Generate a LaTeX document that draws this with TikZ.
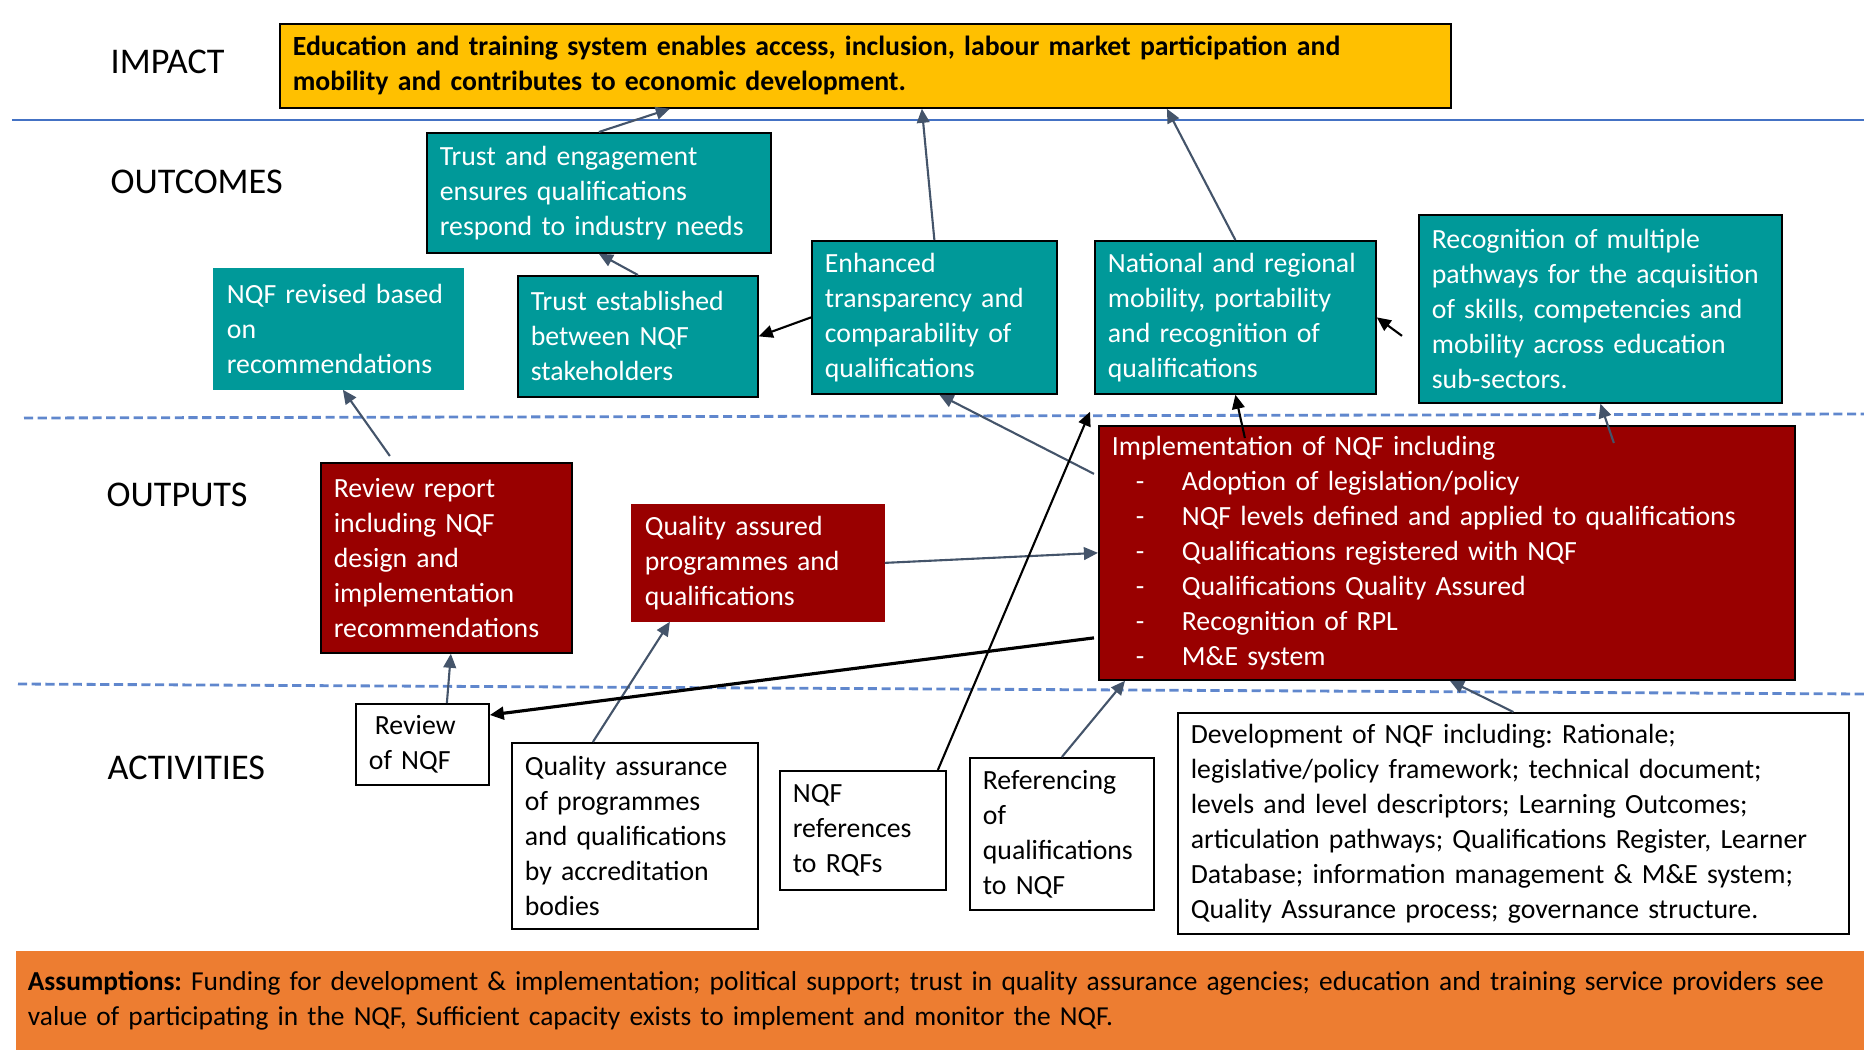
\documentclass[tikz,border=0pt]{standalone}
\usepackage{fontspec}
\setmainfont{Carlito}
\usetikzlibrary{arrows.meta}
\definecolor{gold}{HTML}{FFC000}
\definecolor{tealbox}{HTML}{009999}
\definecolor{redbox}{HTML}{990000}
\definecolor{orangebar}{HTML}{ED7D31}
\definecolor{slate}{HTML}{44546A}
\definecolor{rulecol}{HTML}{4472C4}
\newcommand{\dashitem}{\makebox[0.70cm][l]{\hspace{0.24cm}-}}
\tikzset{
  box/.style={anchor=north west, align=left, inner xsep=0.13cm, inner ysep=0pt,
    draw=black, line width=0.5pt, font=\fontsize{7.9pt}{9.96pt}\selectfont\frenchspacing},
  outcome/.style={box, fill=tealbox, text=white},
  output/.style={box, fill=redbox, text=white},
  activity/.style={box, fill=white},
  level/.style={anchor=west, inner sep=0pt, font=\fontsize{10.3pt}{12pt}\selectfont},
  tip/.style={-{Triangle[length=4pt,width=3.6pt]}, line width=0.6pt},
}
\begin{document}
\begin{tikzpicture}[x=1cm, y=-1cm]
      \useasboundingbox (0,0) rectangle (18.64,10.51);
      \draw[rulecol, line width=0.6pt] (0.12,1.20) -- (18.64,1.20);
      \draw[rulecol!85, line width=0.8pt, dash pattern=on 2.6pt off 1.3pt]
        (0.24,4.18) -- (18.64,4.14)
        (0.18,6.84) -- (18.64,6.94);
      \path
        (1.10,0.62) node[level] (l1){IMPACT}
        (1.10,1.82) node[level] (l2){OUTCOMES}
        (1.06,4.95) node[level] (l3){OUTPUTS}
        (1.07,7.68) node[level] (l4){ACTIVITIES};
      \path
        (2.79,0.23) node[box, fill=gold, font=\fontsize{7.9pt}{9.96pt}\selectfont\frenchspacing\bfseries,
          text width=11.45cm, minimum height=0.84cm] (impact)
          {Education and training system enables access, inclusion, labour market participation and\\
           mobility and contributes to economic development.}
        (4.26,1.32) node[outcome, text width=3.18cm, minimum height=1.20cm] (te)
          {Trust and engagement\\ ensures qualifications\\ respond to industry needs}
        (2.13,2.68) node[outcome, draw=tealbox, text width=2.23cm, minimum height=1.20cm] (rev)
          {NQF revised based\\ on\\ recommendations}
        (5.17,2.75) node[outcome, text width=2.14cm, minimum height=1.21cm] (trust)
          {Trust established\\ between NQF\\ stakeholders}
        (8.11,2.40) node[outcome, text width=2.19cm, minimum height=1.53cm] (enh)
          {Enhanced\\ transparency and\\ comparability of\\ qualifications}
        (10.94,2.40) node[outcome, text width=2.55cm, minimum height=1.53cm] (nat)
          {National and regional\\ mobility, portability\\ and recognition of\\ qualifications}
        (14.18,2.14) node[outcome, text width=3.37cm, minimum height=1.88cm] (recog)
          {Recognition of multiple\\ pathways for the acquisition\\ of skills, competencies and\\ mobility across education\\ sub-sectors.}
        (3.20,4.62) node[output, text width=2.25cm, minimum height=1.90cm] (report)
          {Review report\\ including NQF\\ design and\\ implementation\\ recommendations}
        (6.31,5.04) node[output, draw=redbox, text width=2.26cm, minimum height=1.16cm] (qao)
          {Quality assured\\ programmes and\\ qualifications}
        (10.98,4.25) node[output, text width=6.70cm, minimum height=2.54cm] (impl)
          {Implementation of NQF including\\
           \dashitem Adoption of legislation/policy\\
           \dashitem NQF levels defined and applied to qualifications\\
           \dashitem Qualifications registered with NQF\\
           \dashitem Qualifications Quality Assured\\
           \dashitem Recognition of RPL\\
           \dashitem M\&E system}
        (3.55,7.03) node[activity, text width=1.07cm, minimum height=0.81cm] (review)
          {\hspace{0.06cm}Review\\ of NQF}
        (5.11,7.42) node[activity, text width=2.20cm, minimum height=1.86cm] (qaa)
          {Quality assurance\\ of programmes\\ and qualifications\\ by accreditation\\ bodies}
        (7.79,7.70) node[activity, text width=1.40cm, minimum height=1.19cm] (ref)
          {NQF\\ references\\ to RQFs}
        (9.69,7.57) node[activity, text width=1.58cm, minimum height=1.52cm] (refq)
          {Referencing\\ of\\ qualifications\\ to NQF}
        (11.77,7.12) node[activity, text width=6.45cm, minimum height=2.21cm] (dev)
          {Development of NQF including: Rationale;\\
           legislative/policy framework; technical document;\\
           levels and level descriptors; Learning Outcomes;\\
           articulation pathways; Qualifications Register, Learner\\
           Database; information management \& M\&E system;\\
           Quality Assurance process; governance structure.}
        (0.15,9.50) node[box, draw=none, fill=orangebar, inner xsep=0.12cm,
          font=\fontsize{7.8pt}{9.96pt}\selectfont\frenchspacing,
          text width=18.30cm, minimum height=0.99cm] (assum)
          {\textbf{Assumptions:} Funding for development \& implementation; political support; trust in quality assurance agencies; education and training service providers see\\
           value of participating in the NQF, Sufficient capacity exists to implement and monitor the NQF.};
      \begin{scope}[tip, draw=slate]
        \draw (te.north) to ([xshift=-1.955cm]impact.south);
        \draw (enh.north) to ([xshift=0.565cm]impact.south);
        \draw (nat.north) to ([xshift=3.015cm]impact.south);
        \draw (trust.north) to (te.south);
        \draw ([xshift=-0.565cm,yshift=0.06cm]report.north) to ([xshift=0.045cm]rev.south);
        \draw ([xshift=0.245cm]review.north) to ([xshift=0.045cm]report.south);
        \draw ([xshift=-0.42cm]qaa.north) to ([xshift=-0.88cm]qao.south);
        \draw (qao.east) to (impl.west);
        \draw ([xshift=-0.04cm,yshift=0.79cm]impl.west) to ([xshift=0.05cm]enh.south);
        \draw ([xshift=1.67cm,yshift=-0.18cm]impl.north) to (recog.south);
        \draw (refq.north) to ([xshift=0.27cm]impl.south west);
        \draw (dev.north) to ([xshift=0.03cm]impl.south);
      \end{scope}
      \begin{scope}[tip, draw=black]
        \draw (enh.west) to (trust.east);
        \draw ([xshift=-0.16cm,yshift=-0.27cm]recog.west) to (nat.east);
        \draw[line width=0.9pt] ([xshift=-0.04cm,yshift=-0.85cm]impl.west) to ([yshift=-0.12cm]review.north east);
        \draw ([xshift=0.75cm]ref.north) to ([xshift=-0.04cm,yshift=-0.17cm]nat.south west);
        \draw ([xshift=-2.02cm,yshift=-0.13cm]impl.north) to (nat.south);
      \end{scope}
    \end{tikzpicture}
\end{document}
